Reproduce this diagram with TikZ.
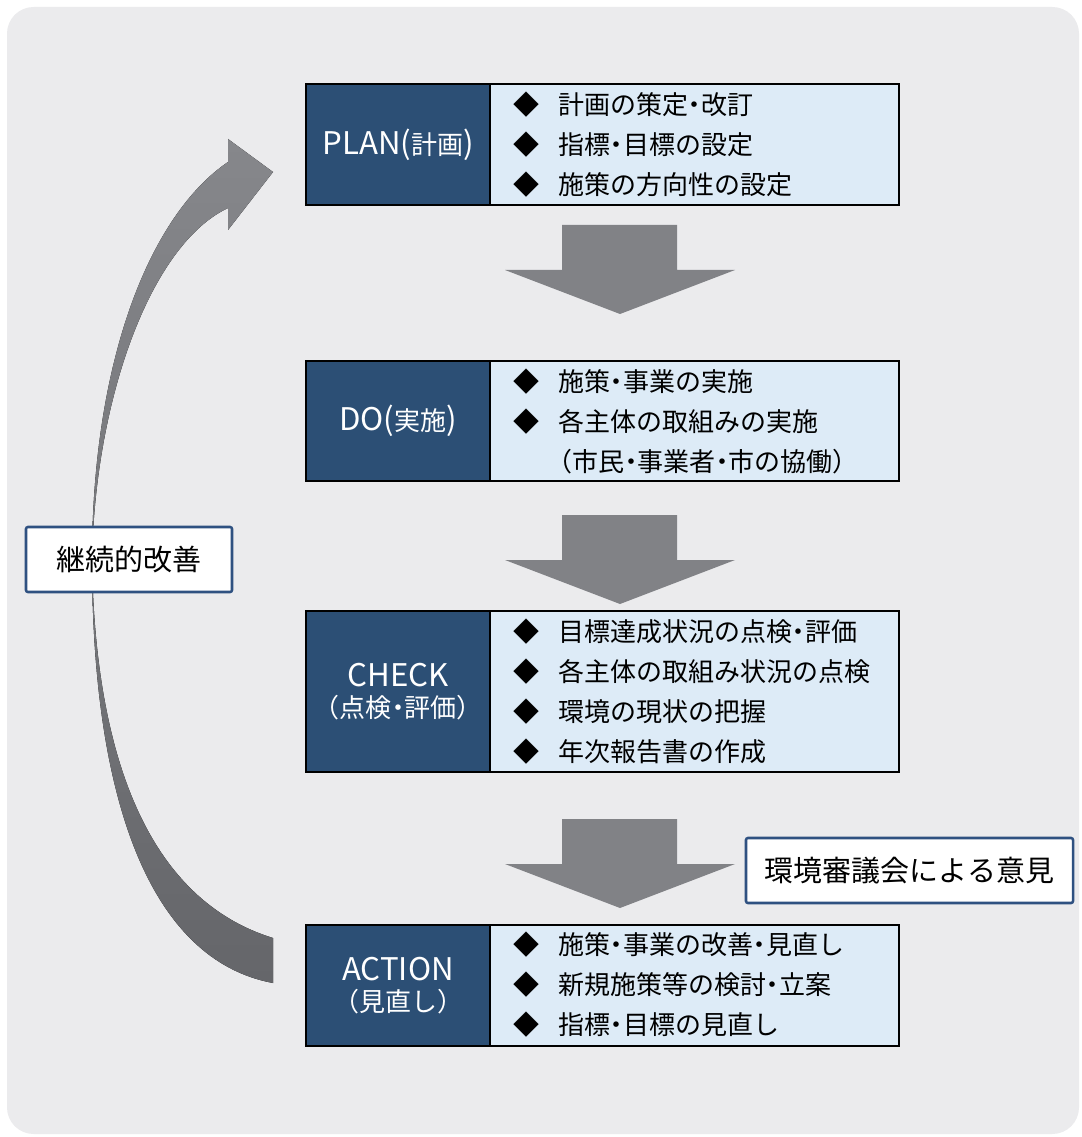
\documentclass[tikz,border=0pt]{standalone}
\usepackage{fontspec}
\setmainfont{Noto Sans CJK JP}
\definecolor{bggray}{HTML}{EBEBED}
\definecolor{navy}{HTML}{2C4F75}
\definecolor{lightblue}{HTML}{DDEBF7}
\definecolor{arrowgray}{HTML}{818286}
\definecolor{arrowtop}{HTML}{86878B}
\definecolor{arrowbot}{HTML}{65666A}
\definecolor{labelblue}{HTML}{2F5181}
\newcommand\nakaguro{\kern-.25em・\kern-.25em}
\newcommand\dia{\makebox[33.75pt][l]{◆}}
\newcommand\nodia{\makebox[33.75pt][l]{}}
\newcommand\lat[1]{{\fontsize{23.4}{23.5}\selectfont #1}}
\begin{document}
\begin{tikzpicture}[x=0.75pt,y=-0.75pt,
  leftcell/.style={rectangle, draw=black, line width=1.8pt, fill=navy, text=white,
    minimum width=138pt, align=center, inner sep=0pt, font=\fontsize{19.5}{23.5}\selectfont},
  rightcell/.style={rectangle, draw=black, line width=1.8pt, fill=lightblue,
    minimum width=306.75pt, inner sep=0pt},
  item/.style={anchor=west, inner sep=0pt, text height=17.2pt, text depth=2.3pt,
    font=\fontsize{19.5}{23}\selectfont},
  labelbox/.style={rectangle, draw=labelblue, line width=1.9pt, fill=white,
    rounded corners=1.5pt, inner sep=0pt, font=\fontsize{21.75}{26}\selectfont},
  blockarrow/.pic={\fill[arrowgray] (-58,0) -- (57,0) -- (57,45) -- (115,45) -- (0,89)
    -- (-115,45) -- (-58,45) -- cycle;}
]
\useasboundingbox (0,0) rectangle (1081,1137);
\fill[white] (0,0) rectangle (1081,1137);
\fill[bggray, rounded corners=20pt] (7,7) rectangle (1079,1134);

% continuous improvement curved arrow
\fill[top color=arrowtop, bottom color=arrowbot]
  (273,983) .. controls (150,960) and (92,800) .. (92,560)
  .. controls (92,360) and (150,215) .. (228,162)
  -- (228,139) -- (273,172) -- (228,230) -- (228,208)
  .. controls (150,245) and (95,400) .. (92,560)
  .. controls (95,760) and (150,900) .. (273,938) -- cycle;

% down arrows
\pic at (620,225) {blockarrow};
\pic at (620,515) {blockarrow};
\pic at (620,819) {blockarrow};

% PLAN
\node[leftcell, minimum height=90.75pt] (planL) at (398,144.5) {\lat{PLAN(}計画\lat{)}};
\node[rightcell, minimum height=90.75pt] (planR) at (694.5,144.5) {};
\node[item] (plan1) at (513,105) {\dia 計画の策定\nakaguro 改訂};
\node[item] (plan2) at (513,145) {\dia 指標\nakaguro 目標の設定};
\node[item] (plan3) at (513,185) {\dia 施策の方向性の設定};

% DO
\node[leftcell, minimum height=90pt] (doL) at (398,421) {\lat{DO(}実施\lat{)}};
\node[rightcell, minimum height=90pt] (doR) at (694.5,421) {};
\node[item] (do1) at (513,382) {\dia 施策\nakaguro 事業の実施};
\node[item] (do2) at (513,422) {\dia 各主体の取組みの実施};
\node[item] (do3) at (513,462) {\nodia\kern-.45em（市民\nakaguro 事業者\nakaguro 市の協働）};

% CHECK
\node[leftcell, minimum height=120.75pt] (checkL) at (398,691.5) {\lat{CHECK}\\（点検\nakaguro 評価）};
\node[rightcell, minimum height=120.75pt] (checkR) at (694.5,691.5) {};
\node[item] (check1) at (513,632) {\dia 目標達成状況の点検\nakaguro 評価};
\node[item] (check2) at (513,672) {\dia 各主体の取組み状況の点検};
\node[item] (check3) at (513,712) {\dia 環境の現状の把握};
\node[item] (check4) at (513,752) {\dia 年次報告書の作成};

% ACTION
\node[leftcell, minimum height=90.75pt] (actL) at (398,985.5) {\lat{ACTION}\\（見直し）};
\node[rightcell, minimum height=90.75pt] (actR) at (694.5,985.5) {};
\node[item] (act1) at (513,945) {\dia 施策\nakaguro 事業の改善\nakaguro 見直し};
\node[item] (act2) at (513,985) {\dia 新規施策等の検討\nakaguro 立案};
\node[item] (act3) at (513,1025) {\dia 指標\nakaguro 目標の見直し};

% labels
\node[labelbox, minimum width=154.5pt, minimum height=48.75pt] (kaizen) at (129,559.5) {継続的改善};
\node[labelbox, minimum width=245.25pt, minimum height=48.75pt] (iken) at (909.5,870.5) {環境審議会による意見};
\end{tikzpicture}
\end{document}
